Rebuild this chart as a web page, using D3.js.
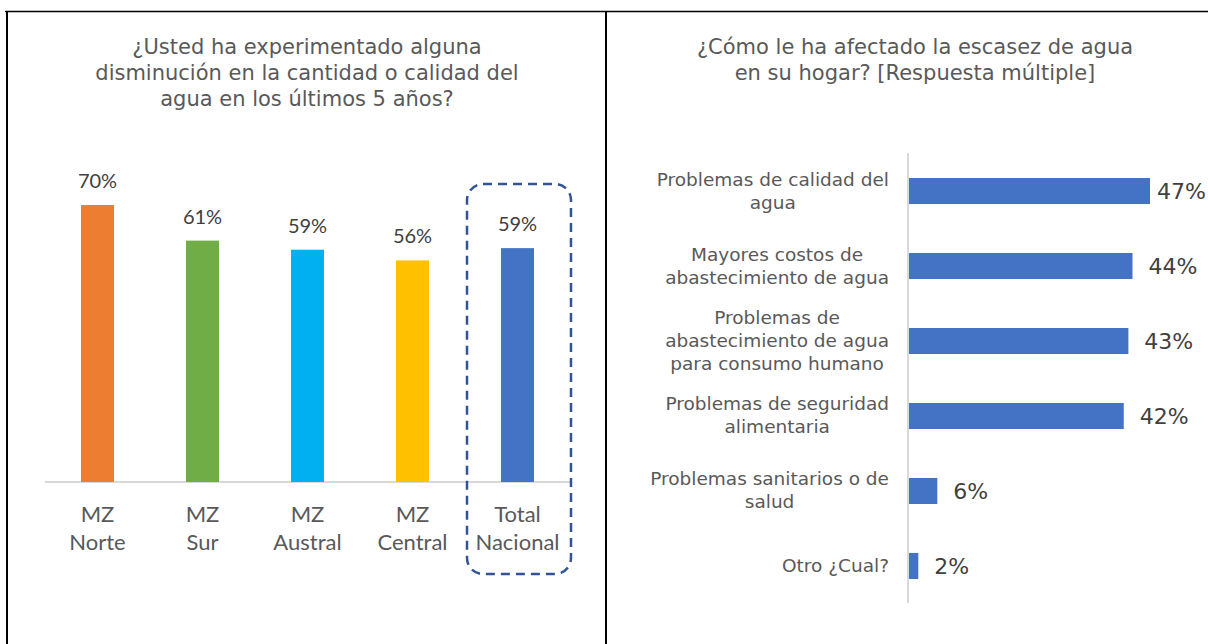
<!DOCTYPE html>
<html>
<head>
<meta charset="utf-8">
<script src="https://cdn.jsdelivr.net/npm/d3@7"></script>
<style>
  body { margin: 0; background: #fff; }
  svg { display: block; }
</style>
</head>
<body>
<svg id="chart" width="1208" height="644"></svg>
<script>
// Left chart data
const zones = ["MZ Norte", "MZ Sur", "MZ Austral", "MZ Central", "Total Nacional"];
const zoneValues = [70, 61, 58.7, 56, 59.1];
const zoneColors = ["#ED7D31", "#70AD47", "#00B0F0", "#FFC000", "#4472C4"];
const leftTitle = [
  "¿Usted ha experimentado alguna",
  "disminución en la cantidad o calidad del",
  "agua en los últimos 5 años?",
];

// Right chart data
const effects = [
  "Problemas de calidad del|agua",
  "Mayores costos de|abastecimiento de agua",
  "Problemas de|abastecimiento de agua|para consumo humano",
  "Problemas de seguridad|alimentaria",
  "Problemas sanitarios o de|salud",
  "Otro ¿Cual?",
];
const effectValues = [47, 43.6, 42.8, 41.9, 5.7, 2];
const rightTitle = [
  "¿Cómo le ha afectado la escasez de agua",
  "en su hogar? [Respuesta múltiple]",
];

const svg = d3.select("#chart");
const titleFont = "'DejaVu Sans', Verdana, sans-serif";
const leftFont = "Lato, 'Open Sans', sans-serif";

// Table borders
svg.append("line")
  .attr("x1", 5).attr("x2", 1208).attr("y1", 11.5).attr("y2", 11.5)
  .attr("stroke", "#000").attr("stroke-width", 1.5);
[7, 606].forEach((x) => {
  svg.append("line")
    .attr("x1", x).attr("x2", x).attr("y1", 11).attr("y2", 644)
    .attr("stroke", "#000").attr("stroke-width", 2);
});

// ---------- Left chart ----------
const base = 482;
const x1 = d3.scaleBand()
  .domain(zones)
  .range([45, 570])
  .paddingInner(0.686)
  .paddingOuter(0.343);

const y1 = d3.scaleLinear()
  .domain([0, 70])
  .range([base, 205]);

// Title
svg.append("text")
  .attr("x", 307)
  .attr("y", 54)
  .attr("text-anchor", "middle")
  .style("font-family", titleFont)
  .style("font-size", "21px")
  .attr("fill", "#595959")
  .selectAll("tspan")
  .data(leftTitle)
  .join("tspan")
  .attr("x", 307)
  .attr("dy", (d, i) => (i === 0 ? 0 : 26))
  .text((d) => d);

// Baseline
svg.append("line")
  .attr("x1", 45).attr("x2", 570).attr("y1", base).attr("y2", base)
  .attr("stroke", "#D9D9D9").attr("stroke-width", 2);

// Bars
svg.append("g")
  .selectAll("rect")
  .data(zones)
  .join("rect")
  .attr("x", (d) => x1(d))
  .attr("y", (d, i) => y1(zoneValues[i]))
  .attr("width", x1.bandwidth())
  .attr("height", (d, i) => base - y1(zoneValues[i]))
  .attr("fill", (d, i) => zoneColors[i]);

// Value labels
svg.append("g")
  .selectAll("text")
  .data(zones)
  .join("text")
  .attr("x", (d) => x1(d) + x1.bandwidth() / 2)
  .attr("y", (d, i) => y1(zoneValues[i]) - 17)
  .attr("text-anchor", "middle")
  .style("font-family", leftFont)
  .style("font-size", "20px")
  .attr("fill", "#404040")
  .text((d, i) => Math.round(zoneValues[i]) + "%");

// Category labels (two lines)
const catG = svg.append("g")
  .selectAll("text")
  .data(zones)
  .join("text")
  .attr("text-anchor", "middle")
  .style("font-family", leftFont)
  .style("font-size", "22px")
  .attr("fill", "#595959");
catG.selectAll("tspan")
  .data((d) => {
    const cx = x1(d) + x1.bandwidth() / 2;
    const parts = d.split(" ");
    return parts.map((p, i) => ({ p, cx, i }));
  })
  .join("tspan")
  .attr("x", (d) => d.cx)
  .attr("y", (d) => 521.5 + d.i * 28.5)
  .text((d) => d.p);

// Dashed highlight around Total Nacional
const last = zones[zones.length - 1];
const boxX = x1(last) - 34;
svg.append("rect")
  .attr("x", boxX)
  .attr("y", 184)
  .attr("width", x1.bandwidth() + 71)
  .attr("height", 390)
  .attr("rx", 16)
  .attr("fill", "none")
  .attr("stroke", "#2F5597")
  .attr("stroke-width", 2.5)
  .attr("stroke-dasharray", "9,6");

// ---------- Right chart ----------
const axisX = 908;
const y2 = d3.scaleBand()
  .domain(effects)
  .range([153.5, 603.5])
  .paddingInner(0.653)
  .paddingOuter(0.327);

const x2 = d3.scaleLinear()
  .domain([0, 47])
  .range([axisX, 1150]);

// Title
svg.append("text")
  .attr("x", 915)
  .attr("y", 54)
  .attr("text-anchor", "middle")
  .style("font-family", titleFont)
  .style("font-size", "21px")
  .attr("fill", "#595959")
  .selectAll("tspan")
  .data(rightTitle)
  .join("tspan")
  .attr("x", 915)
  .attr("dy", (d, i) => (i === 0 ? 0 : 26))
  .text((d) => d);

// Bars
svg.append("g")
  .selectAll("rect")
  .data(effects)
  .join("rect")
  .attr("x", axisX)
  .attr("y", (d) => y2(d))
  .attr("width", (d, i) => x2(effectValues[i]) - axisX)
  .attr("height", y2.bandwidth())
  .attr("fill", "#4472C4");

// Axis line
svg.append("line")
  .attr("x1", axisX).attr("x2", axisX)
  .attr("y1", 153).attr("y2", 603)
  .attr("stroke", "#D9D9D9").attr("stroke-width", 2);

// Value labels
svg.append("g")
  .selectAll("text")
  .data(effects)
  .join("text")
  .attr("y", (d) => y2(d) + y2.bandwidth() / 2 + 8)
  .style("font-family", titleFont)
  .style("font-size", "22px")
  .attr("fill", "#404040")
  .text((d, i) => Math.round(effectValues[i]) + "%")
  .each(function (d, i) {
    const w = this.getComputedTextLength();
    const xx = Math.min(x2(effectValues[i]) + 16, 1206 - w);
    d3.select(this).attr("x", xx);
  });

// Category labels (wrapped, block right-aligned, lines centred)
svg.append("g")
  .selectAll("text")
  .data(effects)
  .join("text")
  .attr("text-anchor", "middle")
  .style("font-family", titleFont)
  .style("font-size", "18.5px")
  .attr("fill", "#595959")
  .each(function (d) {
    const t = d3.select(this);
    const lines = d.split("|");
    const cy = y2(d) + y2.bandwidth() / 2;
    const lh = 23;
    const spans = t.selectAll("tspan")
      .data(lines)
      .join("tspan")
      .attr("y", (l, i) => cy + 6 + (i - (lines.length - 1) / 2) * lh)
      .text((l) => l);
    let maxW = 0;
    spans.each(function () {
      maxW = Math.max(maxW, this.getComputedTextLength());
    });
    spans.attr("x", 889 - maxW / 2);
  });
</script>
</body>
</html>
